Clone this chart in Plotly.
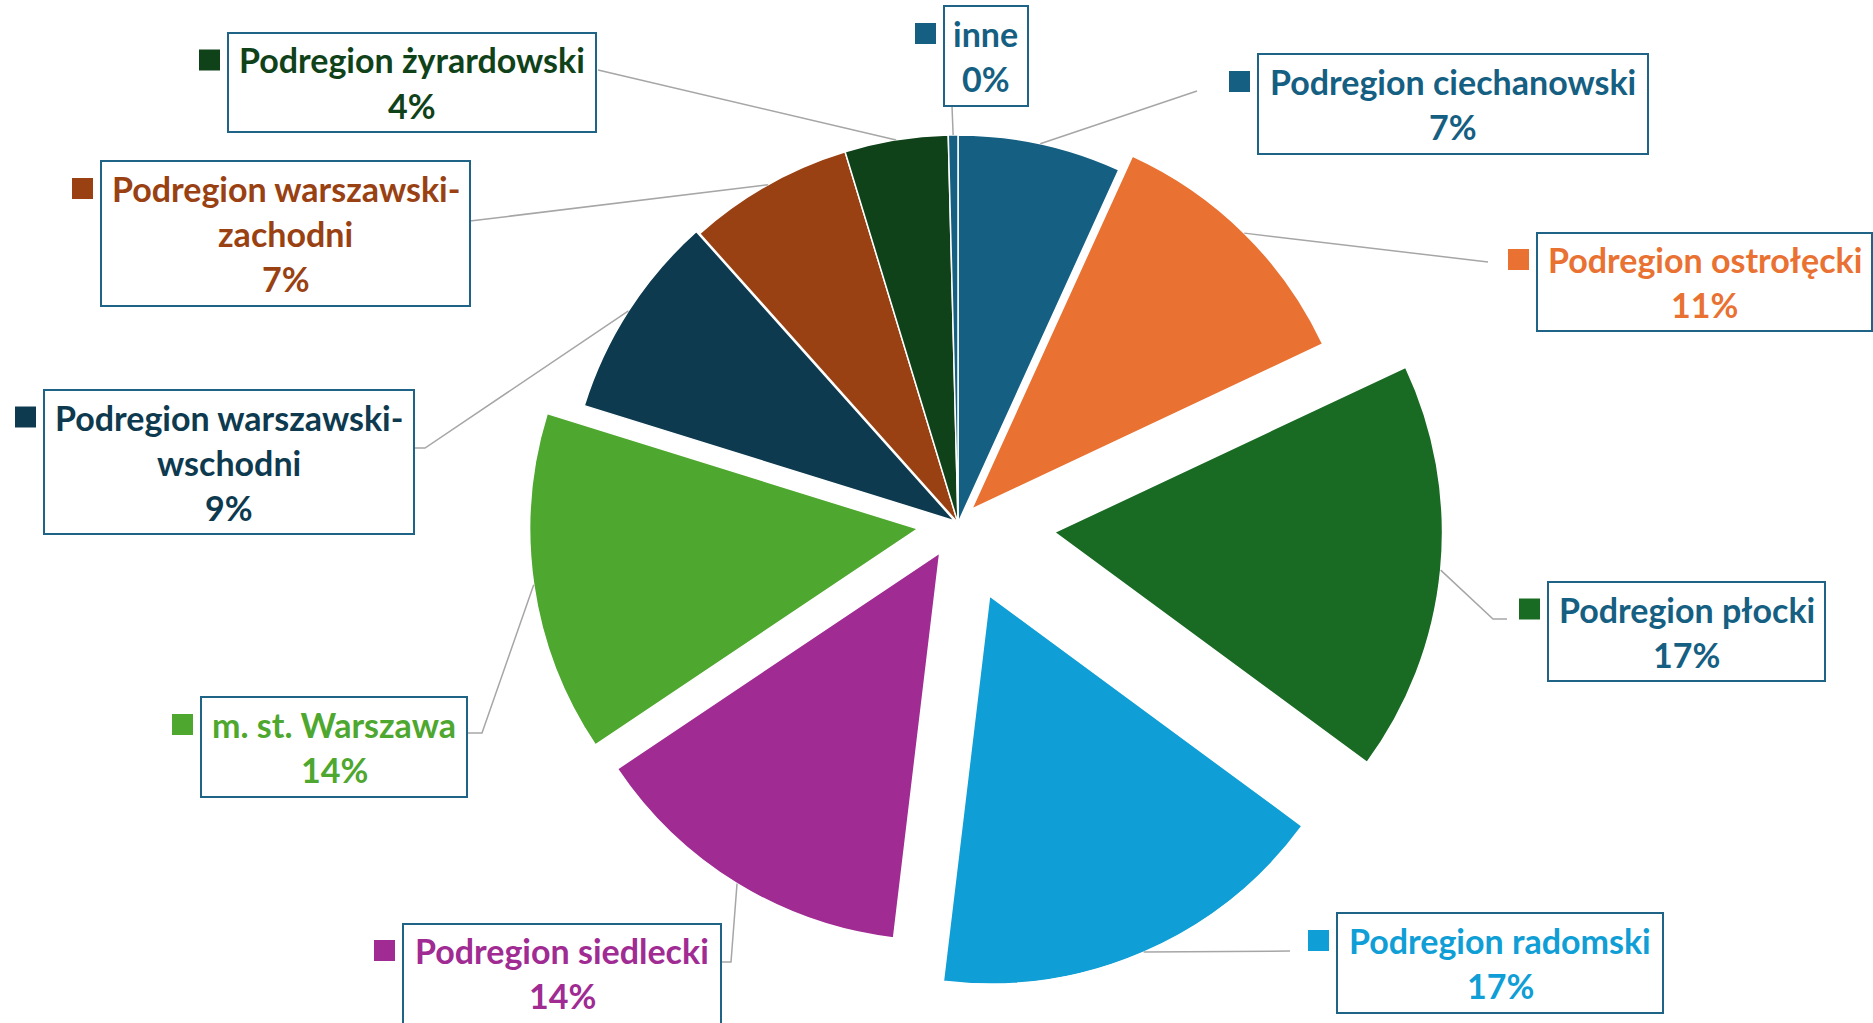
import math
import plotly.graph_objects as go

# ---------------- data ----------------
categories = ["Podregion ciechanowski", "Podregion ostrołęcki", "Podregion płocki",
              "Podregion radomski", "Podregion siedlecki", "m. st. Warszawa",
              "Podregion warszawski-wschodni", "Podregion warszawski-zachodni",
              "Podregion żyrardowski", "inne"]
shares = [6.8, 11.2, 17.1, 16.8, 13.7, 14.2, 8.6, 6.9, 4.3, 0.4]

# ---------------- styles ----------------
slice_colors = ["#156082", "#E97132", "#196B24", "#0F9ED5", "#A02B93", "#4EA72E",
                "#0E3A4F", "#994112", "#10421A", "#156082"]
text_colors = ["#156082", "#E97132", "#156082", "#0F9ED5", "#A02B93", "#4EA72E",
               "#0E3A4F", "#994112", "#10421A", "#156082"]
pulls = [0.0, 0.05, 0.25, 0.205, 0.09, 0.105, 0.01, 0.0, 0.0, 0.0]

W, H = 1873, 1023
CX, CY, R = 958, 523, 388          # pie centre / radius in px
max_pull = max(pulls)
side = 2 * R * (1 + max_pull)

# label boxes (px): x0, y0, x1, y1
boxes = [(1258, 54, 1648, 154), (1537, 233, 1872, 331), (1548, 582, 1825, 681),
         (1337, 913, 1663, 1013), (403, 924, 721, 1026), (201, 697, 467, 797),
         (44, 390, 414, 534), (101, 161, 470, 306), (228, 33, 596, 132),
         (944, 6, 1028, 106)]
# leader-line route after the slice anchor (px)
leader_routes = [[(1197, 91)], [(1488, 262)], [(1493, 619), (1507, 619)],
                 [(1290, 951)], [(731, 962), (722, 962)], [(482, 733), (467, 733)],
                 [(425, 448), (414, 448)], [(470, 221)], [(598, 70)], [(952, 106)]]

FONT = "Lato, 'Open Sans', sans-serif"
FSIZE = 34
LINE_H = 45


def px(x):
    return x / W


def py(y):
    return 1 - y / H


fig = go.Figure()
fig.add_trace(go.Pie(
    labels=categories, values=shares, sort=False, direction="clockwise", rotation=0,
    pull=pulls, textinfo="none", hoverinfo="label+percent",
    marker=dict(colors=slice_colors, line=dict(color="white", width=1.5)),
    domain=dict(x=[px(CX - side / 2), px(CX + side / 2)],
                y=[py(CY + side / 2), py(CY - side / 2)]),
    showlegend=False,
))

shapes, annotations = [], []
total = sum(shares)
cum = 0.0
for i, (cat, v) in enumerate(zip(categories, shares)):
    mid = (cum + v / 2) / total * 2 * math.pi
    cum += v
    rr = R * (1 + pulls[i])
    ax, ay = CX + rr * math.sin(mid), CY - rr * math.cos(mid)
    pts = [(ax, ay)] + leader_routes[i]
    path = "M " + " L ".join(f"{px(x):.5f},{py(y):.5f}" for x, y in pts)
    shapes.append(dict(type="path", path=path, xref="paper", yref="paper",
                       line=dict(color="#A6A6A6", width=1.5)))

    x0, y0, x1, y1 = boxes[i]
    shapes.append(dict(type="rect", xref="paper", yref="paper",
                       x0=px(x0), x1=px(x1), y0=py(y1), y1=py(y0),
                       fillcolor="white", line=dict(color="#1F6386", width=2)))

    if "-" in cat:
        a, b = cat.split("-", 1)
        lines = [a + "-", b]
    else:
        lines = [cat]
    pct = int(math.floor(v / total * 100 + 0.5))
    lines.append(f"{pct}%")
    n = len(lines)
    cyb = (y0 + y1) / 2 if i != 4 else (y0 + 1022) / 2
    for k, t in enumerate(lines):
        ly = cyb + (k - (n - 1) / 2) * LINE_H
        annotations.append(dict(text=t, x=px((x0 + x1) / 2), y=py(ly), xref="paper",
                                yref="paper", xanchor="center", yanchor="middle",
                                showarrow=False,
                                font=dict(family=FONT, size=FSIZE, color=text_colors[i],
                                          weight="bold")))
    # legend key square
    l1 = cyb - (n - 1) / 2 * LINE_H
    sq = 21
    shapes.append(dict(type="rect", xref="paper", yref="paper",
                       x0=px(x0 - 8 - sq), x1=px(x0 - 8), y0=py(l1 + sq / 2), y1=py(l1 - sq / 2),
                       fillcolor=slice_colors[i], line=dict(width=0)))

fig.update_layout(width=W, height=H, margin=dict(l=0, r=0, t=0, b=0),
                  paper_bgcolor="white", plot_bgcolor="white",
                  shapes=shapes, annotations=annotations)
fig.write_html("out.html", config={"displayModeBar": False},
               post_script="document.body.style.margin='0';document.body.style.overflow='hidden';")
